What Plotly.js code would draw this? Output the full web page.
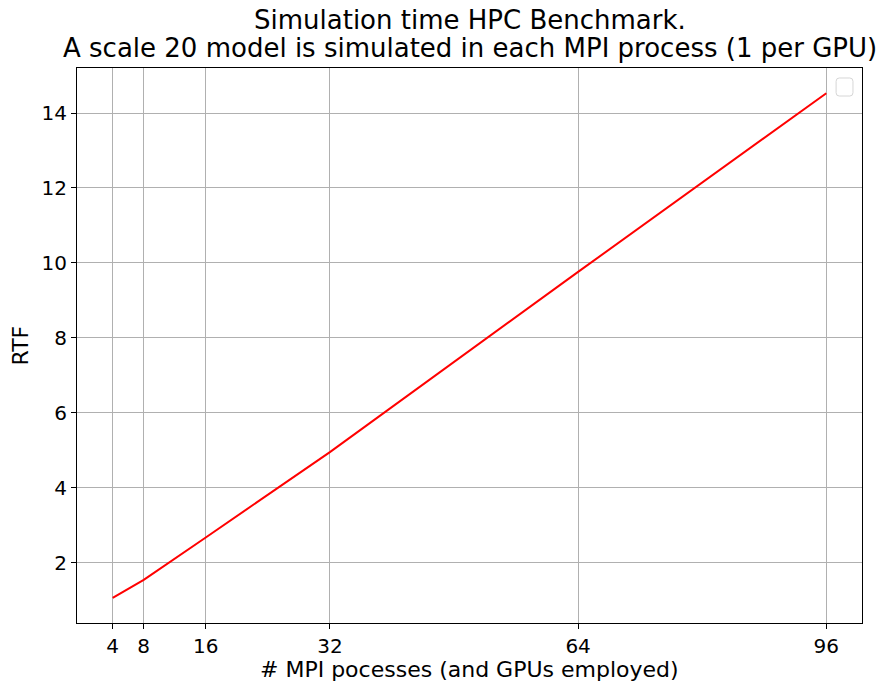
<!DOCTYPE html>
<html>
<head>
<meta charset="utf-8">
<script src="https://cdn.plot.ly/plotly-3.0.1.min.js"></script>
<style>
  html, body { margin: 0; padding: 0; background: #fff; }
  #chart { width: 893px; height: 681px; }
</style>
</head>
<body>
<div id="chart"></div>
<script>
// MPI processes (one GPU each) and the measured real-time factor
const mpiProcesses = [4, 8, 16, 32, 64, 96];
const rtf = [1.06, 1.54, 2.67, 4.95, 9.76, 14.53];
const xTickLabels = ['4', '8', '16', '32', '64', '96'];
const titleLines = [
  'Simulation time HPC Benchmark.',
  'A scale 20 model is simulated in each MPI process (1 per GPU)'
];
const xLabel = '# MPI pocesses (and GPUs employed)';
const yLabel = 'RTF';

const font = 'DejaVu Sans, sans-serif';

// matplotlib-style 5% padding around the data
function padded(arr) {
  const lo = Math.min(...arr), hi = Math.max(...arr);
  const m = (hi - lo) * 0.05;
  return [lo - m, hi + m];
}

const trace = {
  x: mpiProcesses,
  y: rtf,
  type: 'scatter',
  mode: 'lines',
  line: { color: '#ff0000', width: 2 },
  showlegend: false,
  hoverinfo: 'x+y'
};

// empty legend frame in the upper right corner (rounded rectangle)
function roundedRect(x0, y0, x1, y1, rx, ry) {
  return `M${x0 + rx},${y0} L${x1 - rx},${y0} Q${x1},${y0} ${x1},${y0 + ry} ` +
         `L${x1},${y1 - ry} Q${x1},${y1} ${x1 - rx},${y1} L${x0 + rx},${y1} ` +
         `Q${x0},${y1} ${x0},${y1 - ry} L${x0},${y0 + ry} Q${x0},${y0} ${x0 + rx},${y0} Z`;
}

// two-line title, centred over the plot area
const titleAnnotations = titleLines.map((line, i) => ({
  text: line,
  xref: 'paper',
  yref: 'paper',
  x: 0.5,
  y: 1,
  xanchor: 'center',
  yanchor: 'middle',
  yshift: i === 0 ? 48 : 20,
  showarrow: false,
  font: { family: font, size: 26, color: '#000000' }
}));

// axis labels placed as annotations for exact positioning
const axisLabels = [
  {
    text: xLabel,
    xref: 'paper', yref: 'paper',
    x: 0.5, y: 0,
    xanchor: 'center', yanchor: 'middle',
    yshift: -46,
    showarrow: false,
    font: { family: font, size: 22, color: '#000000' }
  },
  {
    text: yLabel,
    xref: 'paper', yref: 'paper',
    x: 0, y: 0.5,
    xanchor: 'center', yanchor: 'middle',
    xshift: -57,
    textangle: -90,
    showarrow: false,
    font: { family: font, size: 22, color: '#000000' }
  }
];

const layout = {
  width: 893,
  height: 681,
  paper_bgcolor: '#ffffff',
  plot_bgcolor: '#ffffff',
  margin: { l: 77, r: 31, t: 68, b: 58, pad: 0 },
  font: { family: font, color: '#000000', size: 20 },
  annotations: titleAnnotations.concat(axisLabels),
  xaxis: {
    range: padded(mpiProcesses),
    tickmode: 'array',
    tickvals: mpiProcesses,
    ticktext: xTickLabels,
    showgrid: true,
    gridcolor: '#b0b0b0',
    gridwidth: 1,
    zeroline: false,
    showline: true,
    linecolor: '#000000',
    linewidth: 1,
    mirror: true,
    ticks: 'outside',
    ticklen: 5,
    tickwidth: 1,
    tickcolor: '#000000',
    tickfont: { family: font, size: 20, color: '#000000' }
  },
  yaxis: {
    range: padded(rtf),
    tickmode: 'linear',
    tick0: 0,
    dtick: 2,
    showgrid: true,
    gridcolor: '#b0b0b0',
    gridwidth: 1,
    zeroline: false,
    showline: true,
    linecolor: '#000000',
    linewidth: 1,
    mirror: true,
    ticks: 'outside',
    ticklen: 5,
    tickwidth: 1,
    tickcolor: '#000000',
    tickfont: { family: font, size: 20, color: '#000000' }
  },
  shapes: [{
    type: 'path',
    xref: 'paper',
    yref: 'paper',
    path: roundedRect(0.967, 0.9495, 0.9885, 0.982, 0.004, 0.006),
    fillcolor: 'rgba(255,255,255,0.8)',
    line: { color: '#d6d6d6', width: 1 },
    layer: 'above'
  }]
};

Plotly.newPlot('chart', [trace], layout, { displayModeBar: false, staticPlot: true });
</script>
</body>
</html>
